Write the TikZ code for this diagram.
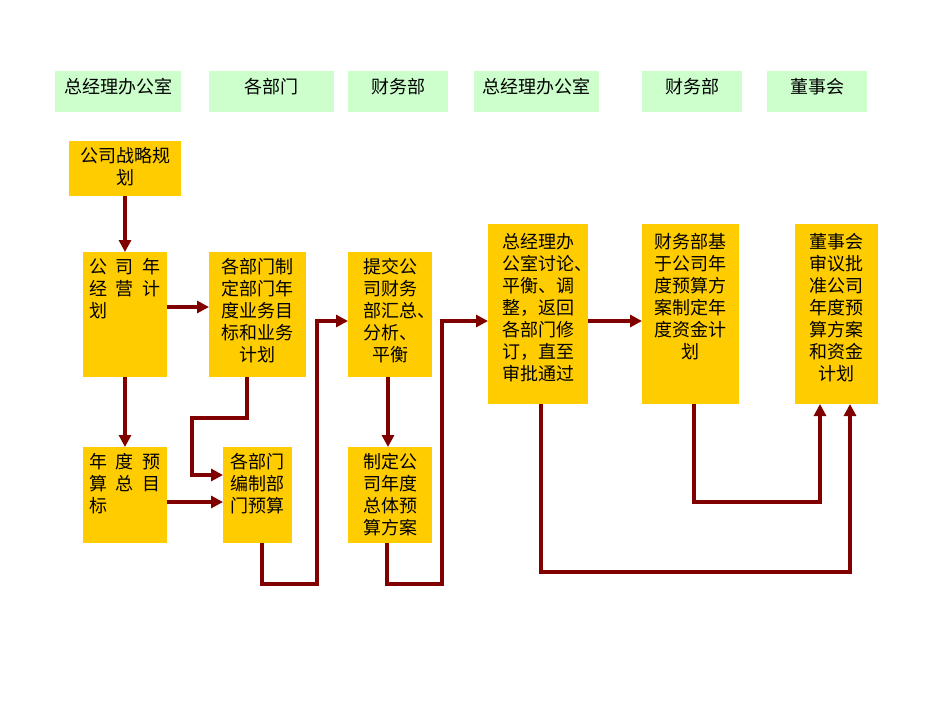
\documentclass[tikz,border=0pt]{standalone}
\usepackage{fontspec}
\newfontfamily\cjk{Noto Sans CJK SC}
\usetikzlibrary{arrows.meta}
\definecolor{hdrgreen}{RGB}{204,255,204}
\definecolor{boxyellow}{RGB}{255,204,0}
\definecolor{arrred}{RGB}{128,0,0}
\hbadness=10000 \hfuzz=50pt
\begin{document}
\begin{tikzpicture}[x=1pt,y=-1pt,
  hdr/.style={fill=hdrgreen, draw=none, inner sep=0pt, outer sep=0pt, anchor=north west, font=\cjk\fontsize{18}{22}\selectfont},
  ybox/.style={fill=boxyellow, draw=none, inner sep=0pt, outer sep=0pt, anchor=north west, font=\cjk\fontsize{18}{22}\selectfont},
  arr/.style={draw=arrred, line width=3.2pt, line join=miter, -{Triangle[length=12pt,width=12pt]}}]
\useasboundingbox[fill=white] (0,0) rectangle (950,713);

% header row
\node[hdr] (h1) at (55,71)  {\parbox[c][41pt][t]{126pt}{\vspace*{7pt}\centering 总经理办公室}};
\node[hdr] (h2) at (209,71) {\parbox[c][41pt][t]{125pt}{\vspace*{7pt}\centering 各部门}};
\node[hdr] (h3) at (348,71) {\parbox[c][41pt][t]{100pt}{\vspace*{7pt}\centering 财务部}};
\node[hdr] (h4) at (474,71) {\parbox[c][41pt][t]{125pt}{\vspace*{7pt}\centering 总经理办公室}};
\node[hdr] (h5) at (642,71) {\parbox[c][41pt][t]{100pt}{\vspace*{7pt}\centering 财务部}};
\node[hdr] (h6) at (767,71) {\parbox[c][41pt][t]{100pt}{\vspace*{7pt}\centering 董事会}};

% process boxes
\node[ybox] (A) at (69,141) {\parbox[c][55pt][t]{112pt}{\vspace*{6pt}\centering 公司战略规\\划}};
\node[ybox] (B) at (83,252) {\parbox[c][125pt][t]{84pt}{\vspace*{6pt}\leftskip=6pt \makebox[72pt][s]{公\hfil 司\hfil 年}\\\makebox[72pt][s]{经\hfil 营\hfil 计}\\划}};
\node[ybox] (C) at (209,252) {\parbox[c][125pt][t]{97pt}{\vspace*{6pt}\centering 各部门制\\定部门年\\度业务目\\标和业务\\计划}};
\node[ybox] (D) at (83,447) {\parbox[c][96pt][t]{84pt}{\vspace*{6pt}\leftskip=6pt \makebox[72pt][s]{年\hfil 度\hfil 预}\\\makebox[72pt][s]{算\hfil 总\hfil 目}\\标}};
\node[ybox] (E) at (223,447) {\parbox[c][96pt][t]{69pt}{\vspace*{6pt}\centering 各部门\\编制部\\门预算}};
\node[ybox] (G) at (348,252) {\parbox[c][125pt][t]{84pt}{\vspace*{6pt}\centering 提交公\\司财务\\\makebox[54pt][l]{部汇总、}\\分析、\\平衡}};
\node[ybox] (F) at (348,447) {\parbox[c][96pt][t]{84pt}{\vspace*{6pt}\centering 制定公\\司年度\\总体预\\算方案}};
\node[ybox] (H) at (488,224) {\parbox[c][180pt][t]{100pt}{\vspace*{9pt}\leftskip=14pt 总经理办\\公室讨论、\\平衡、调\\整，返回\\各部门修\\订，直至\\审批通过}};
\node[ybox] (I) at (642,224) {\parbox[c][180pt][t]{97pt}{\vspace*{9pt}\centering 财务部基\\于公司年\\度预算方\\案制定年\\度资金计\\划}};
\node[ybox] (J) at (795,224) {\parbox[c][180pt][t]{83pt}{\vspace*{9pt}\centering 董事会\\审议批\\准公司\\年度预\\算方案\\和资金\\计划}};

% connectors
\draw[arr] (A.south) -- (B.north);
\draw[arr] (B.east |- 0,307) -- (C.west |- 0,307);
\draw[arr] (B.south) -- (D.north);
\draw[arr] (C.south -| 247,0) -- (247,418) -- (192,418) -- (192,475) -- (E.west |- 0,475);
\draw[arr] (D.east |- 0,502) -- (E.west |- 0,502);
\draw[arr] (E.south -| 262,0) -- (262,584) -- (317,584) -- (317,321) -- (G.west |- 0,321);
\draw[arr] (G.south -| 388,0) -- (F.north -| 388,0);
\draw[arr] (F.south -| 387,0) -- (387,584) -- (442,584) -- (442,321) -- (H.west |- 0,321);
\draw[arr] (H.east |- 0,321) -- (I.west |- 0,321);
\draw[arr] (I.south -| 694,0) -- (694,502) -- (820,502) -- (J.south -| 820,0);
\draw[arr] (H.south -| 541,0) -- (541,572) -- (850,572) -- (J.south -| 850,0);
\end{tikzpicture}
\end{document}
